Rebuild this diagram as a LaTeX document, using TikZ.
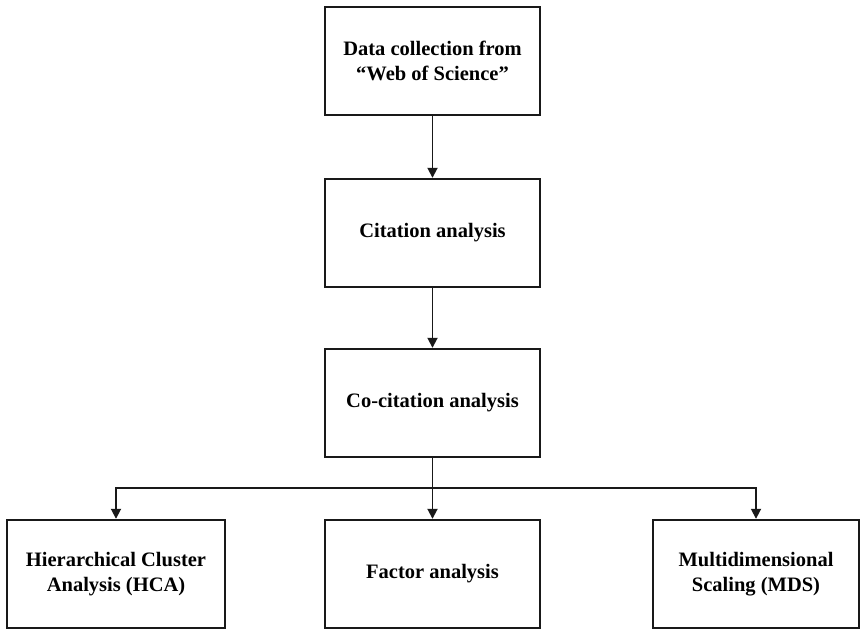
\documentclass[tikz,border=0pt]{standalone}
\usepackage{fontspec}
\setmainfont{Liberation Serif}
\usetikzlibrary{arrows.meta}
\begin{document}
\begin{tikzpicture}[x=1pt,y=-1pt,
  box/.style={draw=black!90, line width=2.4pt, minimum height=108pt, align=center,
    font=\fontsize{20.5}{25}\selectfont\bfseries, inner sep=0pt},
  conn/.style={draw=black!90, line width=1.8pt, -{Triangle[length=10pt,width=10pt]}}]
\useasboundingbox (0,0) rectangle (861,629);
\node[box, minimum width=215pt] (b1) at (432.5,61) {Data collection from\\``Web of Science''};
\node[box, minimum width=215pt] (b2) at (432.5,233) {Citation analysis};
\node[box, minimum width=215pt] (b3) at (432.5,403) {Co-citation analysis};
\node[box, minimum width=218pt] (l) at (116,574) {Hierarchical Cluster\\Analysis (HCA)};
\node[box, minimum width=215pt] (m) at (432.5,574) {Factor analysis};
\node[box, minimum width=206pt] (r) at (756,574) {Multidimensional\\Scaling (MDS)};
\coordinate (j) at (432.5,488);
\draw[conn] (b1) -- (b2);
\draw[conn] (b2) -- (b3);
\draw[conn] (b3) -- (m);
\draw[conn] (j) -| (l.north);
\draw[conn] (j) -| (r.north);
\end{tikzpicture}
\end{document}
